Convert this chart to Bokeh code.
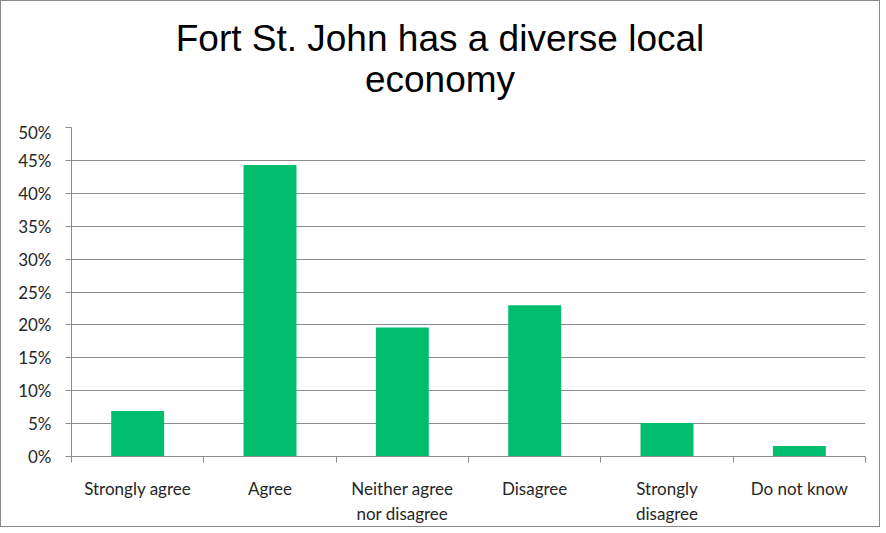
from bokeh.plotting import figure
from bokeh.layouts import column
from bokeh.models import (Div, FixedTicker, NumeralTickFormatter, Range1d, ColumnDataSource)
from bokeh.embed import file_html
from bokeh.resources import INLINE

title_lines = ["Fort St. John has a diverse local", "economy"]
categories = ["Strongly agree", "Agree", "Neither agree\nnor disagree", "Disagree",
              "Strongly\ndisagree", "Do not know"]
values = [0.069, 0.443, 0.196, 0.230, 0.051, 0.016]
y_ticks = [0.0, 0.05, 0.10, 0.15, 0.20, 0.25, 0.30, 0.35, 0.40, 0.45, 0.50]

BAR = "#00BE6E"
GRID = "#8C8C8C"
TXT = "#262626"
FONT = "Lato"

n = len(categories)
xpos = [i + 0.5 for i in range(n)]
src = ColumnDataSource(dict(x=xpos, top=values, label=categories))

title_div = Div(
    text="<div style='margin-top:12px;margin-left:5px;width:858px;text-align:center;"
         "font-family:\"Liberation Sans\";font-size:37px;line-height:41px;color:black;'>"
         + "<br>".join(title_lines) + "</div>",
    width=868, height=110)

p = figure(width=868, height=405, output_backend="svg", toolbar_location=None,
           x_range=Range1d(0, n), y_range=Range1d(0, 0.5))
p.min_border_left = 70
p.min_border_right = 4
p.min_border_top = 6
p.min_border_bottom = 64
p.outline_line_color = None
p.background_fill_color = "white"
p.border_fill_color = "white"

p.vbar(x="x", top="top", width=0.4, bottom=0, source=src, fill_color=BAR, line_color=None)

# y axis
p.yaxis.ticker = FixedTicker(ticks=y_ticks)
p.yaxis.formatter = NumeralTickFormatter(format="0%")
p.yaxis.axis_line_color = GRID
p.yaxis.major_tick_line_color = GRID
p.yaxis.major_tick_out = 6
p.yaxis.major_tick_in = 0
p.yaxis.minor_tick_line_color = None
p.yaxis.major_label_text_font = FONT
p.yaxis.major_label_text_font_size = "17px"
p.yaxis.major_label_text_color = TXT
p.yaxis.major_label_standoff = 14

# x axis: labels at centers, tick marks at boundaries
p.xaxis.ticker = FixedTicker(ticks=xpos, minor_ticks=list(range(n + 1)))
p.xaxis.major_label_overrides = {x: c for x, c in zip(xpos, categories)}
p.xaxis.major_tick_line_color = None
p.xaxis.minor_tick_line_color = GRID
p.xaxis.minor_tick_out = 6
p.xaxis.minor_tick_in = 0
p.xaxis.axis_line_color = GRID
p.xaxis.major_label_text_font = FONT
p.xaxis.major_label_text_font_size = "17px"
p.xaxis.major_label_text_color = TXT
p.xaxis.major_label_standoff = 15

p.xgrid.grid_line_color = None
p.ygrid.ticker = FixedTicker(ticks=y_ticks)
p.ygrid.grid_line_color = GRID
p.ygrid.grid_line_width = 1

layout = column(title_div, p, spacing=0)
layout.styles = {"border": "1px solid #8a8a8a", "background-color": "white"}

open("out.html", "w").write(file_html(layout, INLINE))
